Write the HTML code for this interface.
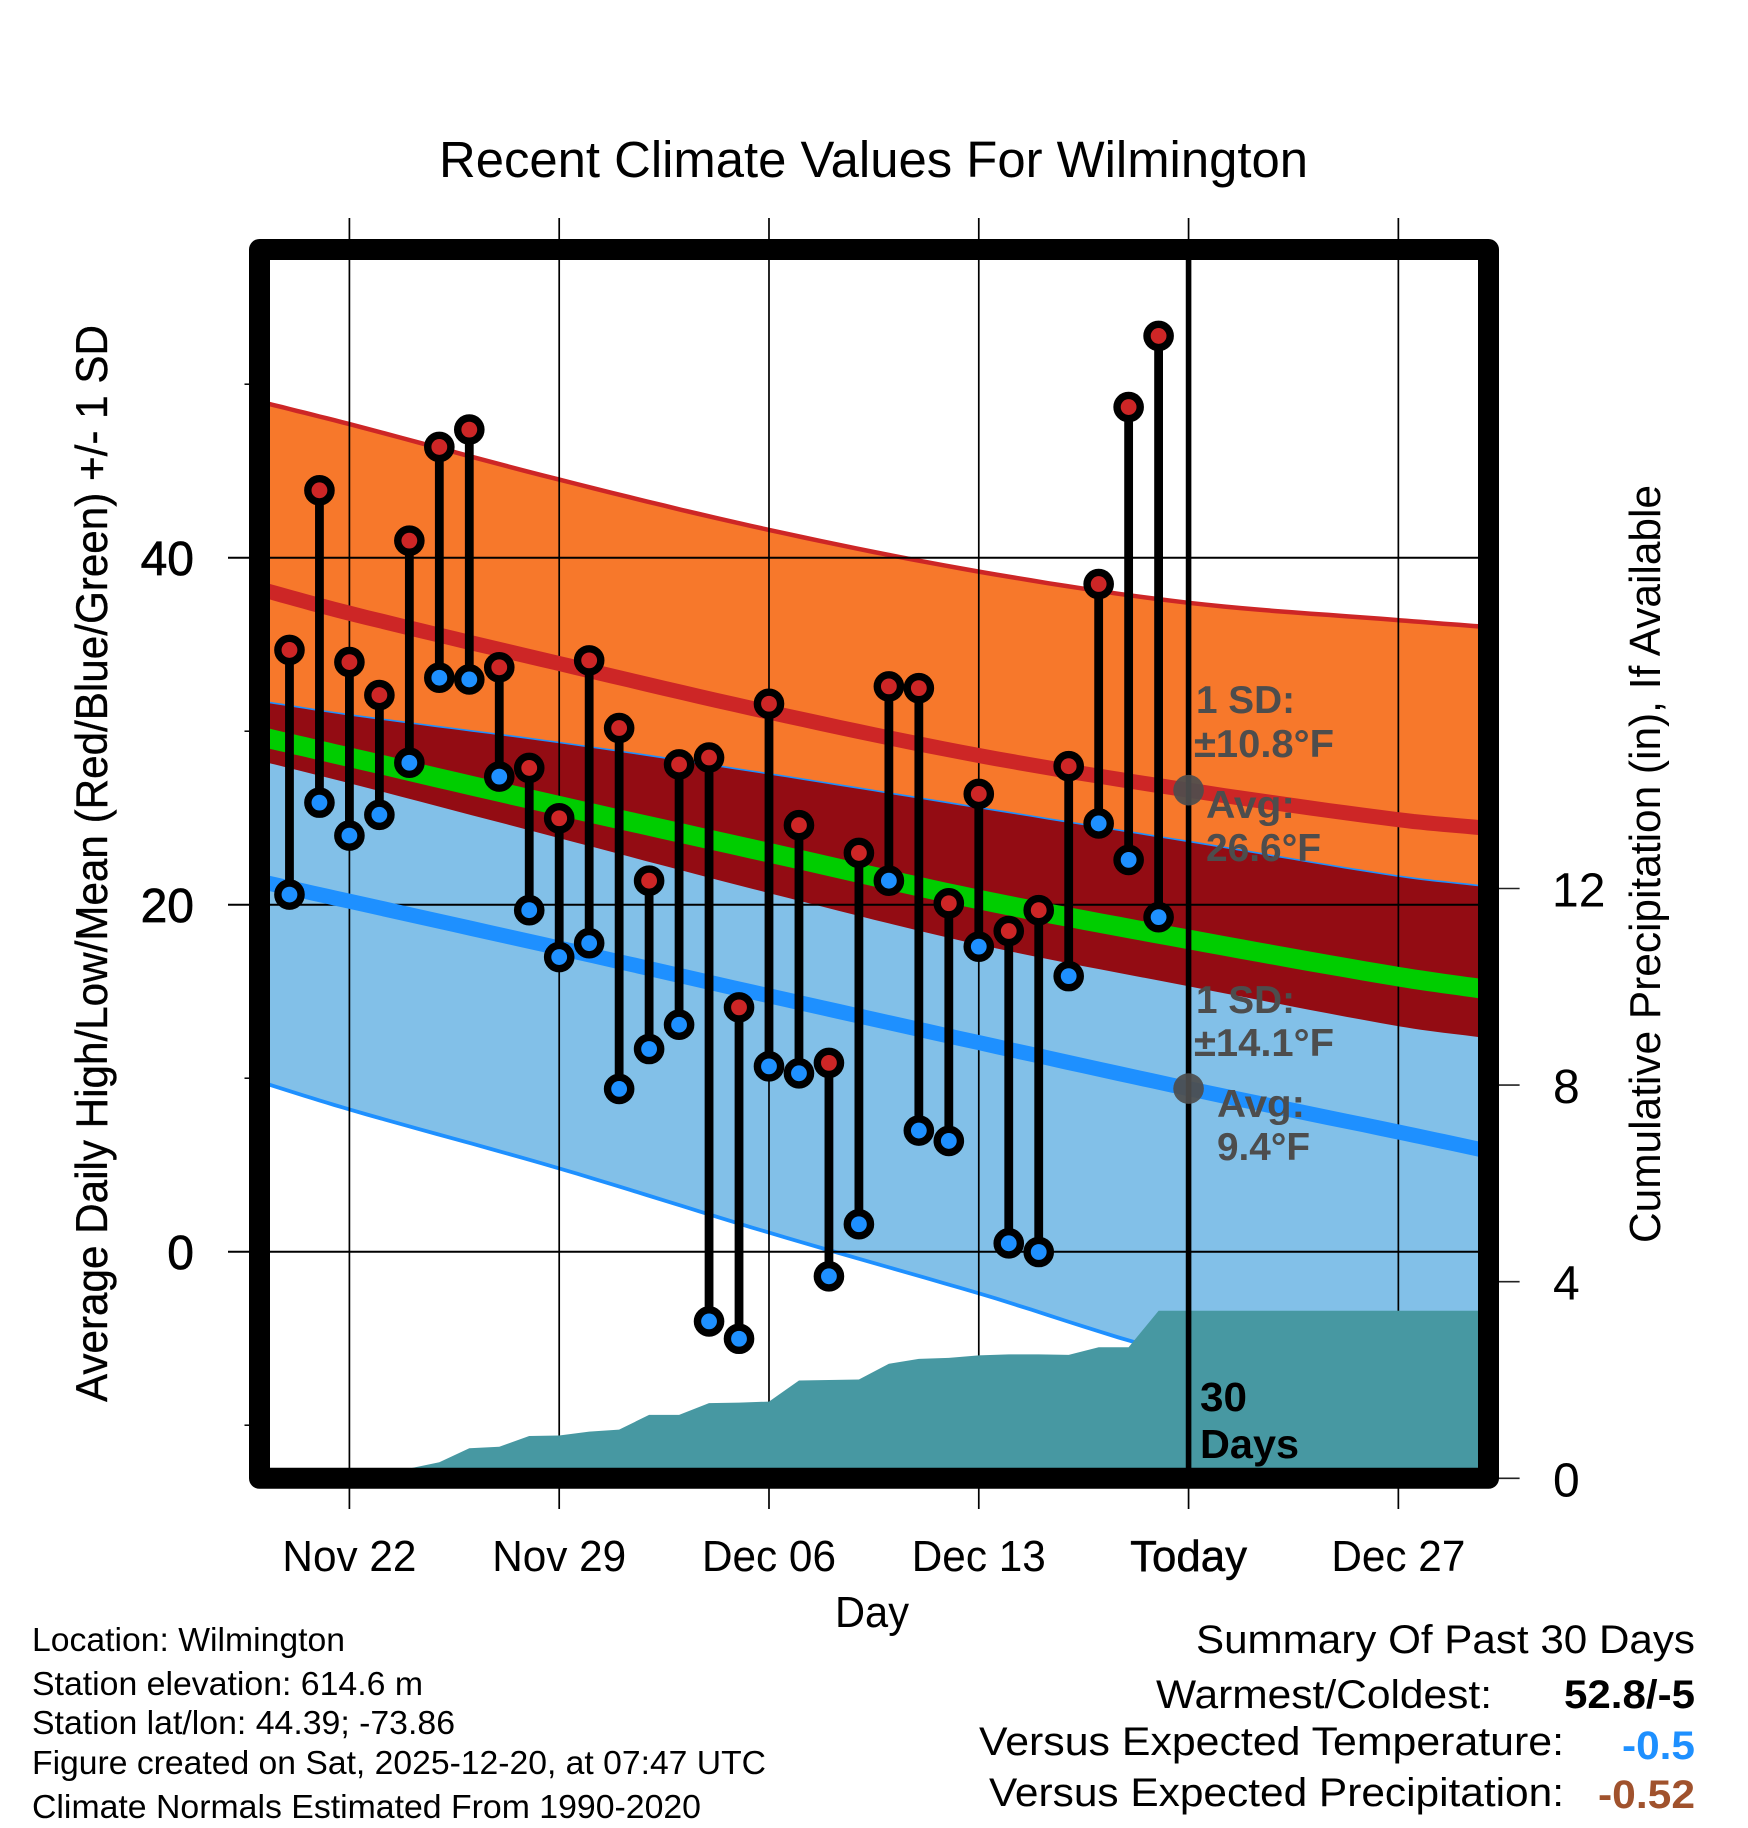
<!DOCTYPE html>
<html lang="en">
<head>
<meta charset="utf-8">
<title>Recent Climate Values For Wilmington</title>
<style>
html,body{margin:0;padding:0;background:#fff}
svg{display:block}
text{font-family:"Liberation Sans",Arial,Helvetica,sans-serif;fill:#000}
.ann{font-weight:bold;font-size:39px;fill:#4d4d4d}
.foot{font-size:33.5px}
.sum{font-size:40px}
.val{font-size:40px;font-weight:bold}
.xl{font-size:44px;text-anchor:middle}
</style>
</head>
<body>
<svg id="chart" xmlns="http://www.w3.org/2000/svg" width="1748" height="1828" viewBox="0 0 1748 1828">
  <rect x="0" y="0" width="1748" height="1828" fill="#ffffff"/>
  <defs><clipPath id="plot-clip"><rect x="270" y="260" width="1208" height="1208"/></clipPath></defs>
  <g id="plot"></g>
  <text x="439" y="177" font-size="51" textLength="869" lengthAdjust="spacingAndGlyphs">Recent Climate Values For Wilmington</text>
  <text transform="translate(107,1402) rotate(-90)" font-size="44.5" textLength="1077" lengthAdjust="spacingAndGlyphs" style="stroke:#000;stroke-width:.35">Average Daily High/Low/Mean (Red/Blue/Green) +/- 1 SD</text>
  <text transform="translate(1660,1243) rotate(-90)" font-size="44" textLength="758" lengthAdjust="spacingAndGlyphs">Cumulative Precipitation (in), If Available</text>
  <text x="872" y="1627" class="xl" textLength="74" lengthAdjust="spacingAndGlyphs">Day</text>

  <text class="ann" x="1196" y="713" textLength="99" lengthAdjust="spacingAndGlyphs">1 SD:</text>
  <text class="ann" x="1194" y="757" textLength="140" lengthAdjust="spacingAndGlyphs">±10.8°F</text>
  <text class="ann" x="1206" y="818" textLength="89" lengthAdjust="spacingAndGlyphs">Avg:</text>
  <text class="ann" x="1206" y="861" textLength="115" lengthAdjust="spacingAndGlyphs">26.6°F</text>
  <text class="ann" x="1196" y="1013" textLength="99" lengthAdjust="spacingAndGlyphs">1 SD:</text>
  <text class="ann" x="1194" y="1056" textLength="140" lengthAdjust="spacingAndGlyphs">±14.1°F</text>
  <text class="ann" x="1217" y="1117" textLength="88" lengthAdjust="spacingAndGlyphs">Avg:</text>
  <text class="ann" x="1217" y="1160" textLength="93" lengthAdjust="spacingAndGlyphs">9.4°F</text>
  <text x="1200" y="1411" font-size="41" font-weight="bold" textLength="47" lengthAdjust="spacingAndGlyphs">30</text>
  <text x="1200" y="1458" font-size="41" font-weight="bold" textLength="99" lengthAdjust="spacingAndGlyphs">Days</text>

  <text class="foot" x="32" y="1651" textLength="313" lengthAdjust="spacingAndGlyphs">Location: Wilmington</text>
  <text class="foot" x="32" y="1695" textLength="391" lengthAdjust="spacingAndGlyphs">Station elevation: 614.6 m</text>
  <text class="foot" x="32" y="1734" textLength="423" lengthAdjust="spacingAndGlyphs">Station lat/lon: 44.39; -73.86</text>
  <text class="foot" x="32" y="1774" textLength="734" lengthAdjust="spacingAndGlyphs">Figure created on Sat, 2025-12-20, at 07:47 UTC</text>
  <text class="foot" x="32" y="1818" textLength="669" lengthAdjust="spacingAndGlyphs">Climate Normals Estimated From 1990-2020</text>

  <text class="sum" x="1196" y="1653" textLength="499" lengthAdjust="spacingAndGlyphs">Summary Of Past 30 Days</text>
  <text class="sum" x="1156" y="1708" textLength="336" lengthAdjust="spacingAndGlyphs">Warmest/Coldest:</text>
  <text class="val" x="1564" y="1708" textLength="131" lengthAdjust="spacingAndGlyphs">52.8/-5</text>
  <text class="sum" x="979" y="1755" textLength="585" lengthAdjust="spacingAndGlyphs">Versus Expected Temperature:</text>
  <text class="val" x="1622" y="1759" textLength="73" lengthAdjust="spacingAndGlyphs" style="fill:#1e90ff">-0.5</text>
  <text class="sum" x="989" y="1806" textLength="575" lengthAdjust="spacingAndGlyphs">Versus Expected Precipitation:</text>
  <text class="val" x="1598" y="1808" textLength="97" lengthAdjust="spacingAndGlyphs" style="fill:#a0522d">-0.52</text>
</svg>
<script>
// Observed daily values, Nov 20 .. Dec 19 (day index 1 .. 30, index 0 = Nov 19)
var observedDays = [1,2,3,4,5,6,7,8,9,10,11,12,13,14,15,16,17,18,19,20,21,22,23,24,25,26,27,28,29,30];
var highs = [34.7,43.9,34.0,32.1,41.0,46.4,47.4,33.7,27.9,25.0,34.1,30.2,21.4,28.1,28.5,14.1,31.6,24.6,10.9,23.0,32.6,32.5,20.1,26.4,18.5,19.7,28.0,38.5,48.7,52.8];
var lows = [20.6,25.9,24.0,25.2,28.2,33.1,33.0,27.4,19.7,17.0,17.8,9.4,11.7,13.1,-4.0,-5.0,10.7,10.3,-1.4,1.6,21.4,7.0,6.4,17.6,0.5,0.0,15.9,24.7,22.6,19.3];
// Climate normals, read at these day indices
var normalDays = [0,3,10,17,24,31,38,41];
var highUpper = [49.0,47.7,44.5,41.6,39.2,37.4,36.4,36.0];
var highMean = [38.2,36.8,33.9,31.1,28.6,26.6,24.9,24.4];
var highLower = [28.3,27.0,23.84,20.67,17.7,15.3,13.0,12.3];
var lowUpper = [31.7,30.9,29.3,27.5,25.55,23.6,21.6,21.0];
var meanMean = [29.7,28.5,25.7,23.0,20.3,18.0,15.85,15.1];
var lowMean = [21.35,20.2,17.5,14.75,12.05,9.4,6.9,5.8];
var lowLower = [9.8,8.2,4.8,1.1,-2.4,-6.0,-7.6,-8.0];
// Cumulative precipitation (in), day index 1 .. 41
var precipDays = [1,2,3,4,5,6,7,8,9,10,11,12,13,14,15,16,17,18,19,20,21,22,23,24,25,26,27,28,29,30,31,32,33,34,35,36,37,38,39,40,41];
var precip = [0,0,0,0,0.2,0.325,0.61,0.64,0.86,0.87,0.95,0.99,1.29,1.29,1.53,1.54,1.56,1.99,2.0,2.01,2.33,2.43,2.45,2.5,2.52,2.52,2.51,2.665,2.665,3.41,3.41,3.41,3.41,3.41,3.41,3.41,3.41,3.41,3.41,3.41,3.41];
// Axes
var xTickDays = [3,10,17,24,31,38];
var xTickLabels = ["Nov 22","Nov 29","Dec 06","Dec 13","Today","Dec 27"];
var yMajorTicks = [0,20,40];
var yMinorTicks = [-10,10,30,50];
var precipTicks = [0,4,8,12];
var todayDay = 31;
var todayHigh = 26.6;
var todayLow = 9.4;

var NS = "http://www.w3.org/2000/svg";
var plot = document.getElementById("plot");
function xScale(d){ return 259.5 + 29.97 * d; }
function yScale(v){ return 1251.7 - 17.35 * v; }
function pScale(v){ return 1478.3 - 49.15 * v; }
function mk(tag, parent){ var e = document.createElementNS(NS, tag); (parent || plot).appendChild(e); return e; }
// Smooth curve through the sampled normals (Catmull-Rom drawn as short chords)
function linePts(vals){
  var out = [];
  var n = normalDays.length;
  for (var i = 0; i < n - 1; i++) {
    var x0 = xScale(normalDays[i]), x1 = xScale(normalDays[i+1]);
    var y1 = yScale(vals[i]), y2 = yScale(vals[i+1]);
    var s0 = i > 0 ? (y2 - yScale(vals[i-1])) / (x1 - xScale(normalDays[i-1])) : (y2 - y1) / (x1 - x0);
    var s1 = i < n - 2 ? (yScale(vals[i+2]) - y1) / (xScale(normalDays[i+2]) - x0) : (y2 - y1) / (x1 - x0);
    var w = x1 - x0;
    for (var k = 0; k < 12; k++) {
      var t = k / 12, t2 = t * t, t3 = t2 * t;
      var y = (2*t3-3*t2+1)*y1 + (t3-2*t2+t)*w*s0 + (-2*t3+3*t2)*y2 + (t3-t2)*w*s1;
      out.push((x0 + t*w).toFixed(1) + "," + y.toFixed(1));
    }
  }
  out.push(xScale(normalDays[n-1]).toFixed(1) + "," + yScale(vals[n-1]).toFixed(1));
  return out;
}
function bandPts(top, bottom){ return linePts(top).concat(linePts(bottom).reverse()).join(" "); }
function clipG(){ var g = mk("g"); g.setAttribute("clip-path","url(#plot-clip)"); return g; }

// Bands
var bands = clipG();


var b1 = mk("polygon", bands);


b1.setAttribute("points", bandPts(highUpper, highLower));
b1.setAttribute("fill", "#f7782b");
var l1 = mk("polyline", bands);


l1.setAttribute("points", linePts(highUpper).join(" "));
l1.setAttribute("fill", "none");
l1.setAttribute("stroke", "#cd2626");
l1.setAttribute("stroke-width", "4.5");
var b2 = mk("polygon", bands);


b2.setAttribute("points", bandPts(lowUpper, lowLower));
b2.setAttribute("fill", "#82c0e8");
var l2 = mk("polyline", bands);


l2.setAttribute("points", linePts(lowUpper).join(" "));
l2.setAttribute("fill", "none");
l2.setAttribute("stroke", "#1e90ff");
l2.setAttribute("stroke-width", "3.2");
var l3 = mk("polyline", bands);


l3.setAttribute("points", linePts(lowLower).join(" "));
l3.setAttribute("fill", "none");
l3.setAttribute("stroke", "#1e90ff");
l3.setAttribute("stroke-width", "3.8");
var b3 = mk("polygon", bands);


b3.setAttribute("points", bandPts(lowUpper, highLower));
b3.setAttribute("fill", "#930c13");

// Grid and ticks
xTickDays.forEach(function(d){
  var g = mk("line");
  
  
  g.setAttribute("x1", xScale(d)); g.setAttribute("x2", xScale(d));
  g.setAttribute("y1", 218); g.setAttribute("y2", 1509);
  g.setAttribute("stroke", "#000"); g.setAttribute("stroke-width", "1.7");
});
yMajorTicks.forEach(function(v){
  var g = mk("line");
  
  
  g.setAttribute("x1", 228); g.setAttribute("x2", 1478);
  g.setAttribute("y1", yScale(v)); g.setAttribute("y2", yScale(v));
  g.setAttribute("stroke", "#000"); g.setAttribute("stroke-width", "2");
  var t = mk("text");
  
  
  t.setAttribute("x", 194); t.setAttribute("y", yScale(v) + 17.5);
  t.setAttribute("text-anchor", "end");
  t.setAttribute("font-size", "48");
  t.setAttribute("style", "stroke:#000;stroke-width:.7");
  t.textContent = String(v);
});
yMinorTicks.forEach(function(v){
  var g = mk("line");
  
  
  g.setAttribute("x1", 244.5); g.setAttribute("x2", 252);
  g.setAttribute("y1", yScale(v)); g.setAttribute("y2", yScale(v));
  g.setAttribute("stroke", "#000"); g.setAttribute("stroke-width", "1.5");
});
precipTicks.forEach(function(v){
  var g = mk("line");
  
  
  g.setAttribute("x1", 1496); g.setAttribute("x2", 1519.6);
  g.setAttribute("y1", pScale(v)); g.setAttribute("y2", pScale(v));
  g.setAttribute("stroke", "#222"); g.setAttribute("stroke-width", "1.6");
  var t = mk("text");
  
  
  t.setAttribute("x", v < 10 ? 1553 : 1552); t.setAttribute("y", pScale(v) + 18);
  t.setAttribute("font-size", "48");
  t.textContent = String(v);
});
xTickDays.forEach(function(d,i){
  var t = mk("text");
  
  
  t.setAttribute("class", "xl");
  t.setAttribute("x", xScale(d)); t.setAttribute("y", 1571);
  t.setAttribute("textLength", xTickLabels[i] === "Today" ? 117 : 134);
  t.setAttribute("lengthAdjust", "spacingAndGlyphs");
  if (xTickLabels[i] === "Today") t.setAttribute("style", "stroke:#000;stroke-width:.5");
  t.textContent = xTickLabels[i];
});

// Normal mean lines
var means = clipG();


var m1 = mk("polyline", means);


m1.setAttribute("points", linePts(highMean).join(" "));
m1.setAttribute("fill", "none"); m1.setAttribute("stroke", "#cd2626"); m1.setAttribute("stroke-width", "15");
var m2 = mk("polyline", means);


m2.setAttribute("points", linePts(meanMean).join(" "));
m2.setAttribute("fill", "none"); m2.setAttribute("stroke", "#00cd00"); m2.setAttribute("stroke-width", "19.5");
var m3 = mk("polyline", means);


m3.setAttribute("points", linePts(lowMean).join(" "));
m3.setAttribute("fill", "none"); m3.setAttribute("stroke", "#1e90ff"); m3.setAttribute("stroke-width", "15");

// Daily stems and markers
observedDays.forEach(function(d,i){
  var s = mk("line");
  
  
  s.setAttribute("x1", xScale(d)); s.setAttribute("x2", xScale(d));
  s.setAttribute("y1", yScale(highs[i]) + 0.3); s.setAttribute("y2", yScale(lows[i]) + 0.3);
  s.setAttribute("stroke", "#000"); s.setAttribute("stroke-width", "8.8");
  var h = mk("circle");
  
  
  h.setAttribute("cx", xScale(d)); h.setAttribute("cy", yScale(highs[i]) + 0.3);
  h.setAttribute("r", "11.6"); h.setAttribute("fill", "#cd2626");
  h.setAttribute("stroke", "#000"); h.setAttribute("stroke-width", "7.4");
  var l = mk("circle");
  
  
  l.setAttribute("cx", xScale(d)); l.setAttribute("cy", yScale(lows[i]) + 0.3);
  l.setAttribute("r", "11.6"); l.setAttribute("fill", "#1e90ff");
  l.setAttribute("stroke", "#000"); l.setAttribute("stroke-width", "7.4");
});

// Cumulative precipitation
var pg = clipG();


var area = mk("polygon", pg);


var pts = precipDays.map(function(d,i){ return xScale(d).toFixed(1)+","+pScale(precip[i]).toFixed(1); });
pts.push(xScale(precipDays[precipDays.length-1]).toFixed(1)+","+pScale(0).toFixed(1));
pts.push(xScale(precipDays[0]).toFixed(1)+","+pScale(0).toFixed(1));
area.setAttribute("points", pts.join(" "));
area.setAttribute("fill", "#4798a2");

// Today line
var tl = mk("line");


tl.setAttribute("x1", xScale(todayDay)); tl.setAttribute("x2", xScale(todayDay));
tl.setAttribute("y1", 260); tl.setAttribute("y2", 1468);
tl.setAttribute("stroke", "#000"); tl.setAttribute("stroke-width", "5.6");
var ch = mk("circle");


ch.setAttribute("cx", xScale(todayDay)); ch.setAttribute("cy", yScale(todayHigh));
ch.setAttribute("r", "15.3"); ch.setAttribute("fill", "#4d4d4d"); ch.setAttribute("fill-opacity", "0.93");
var cl = mk("circle");


cl.setAttribute("cx", xScale(todayDay)); cl.setAttribute("cy", yScale(todayLow));
cl.setAttribute("r", "15.3"); cl.setAttribute("fill", "#4d4d4d"); cl.setAttribute("fill-opacity", "0.93");

// Frame
var fr = mk("rect");


fr.setAttribute("x", 259.5); fr.setAttribute("y", 249.5);
fr.setAttribute("width", 1229); fr.setAttribute("height", 1228.8);
fr.setAttribute("fill", "none"); fr.setAttribute("stroke", "#000");
fr.setAttribute("stroke-width", "21"); fr.setAttribute("stroke-linejoin", "round");
</script>
</body>
</html>
